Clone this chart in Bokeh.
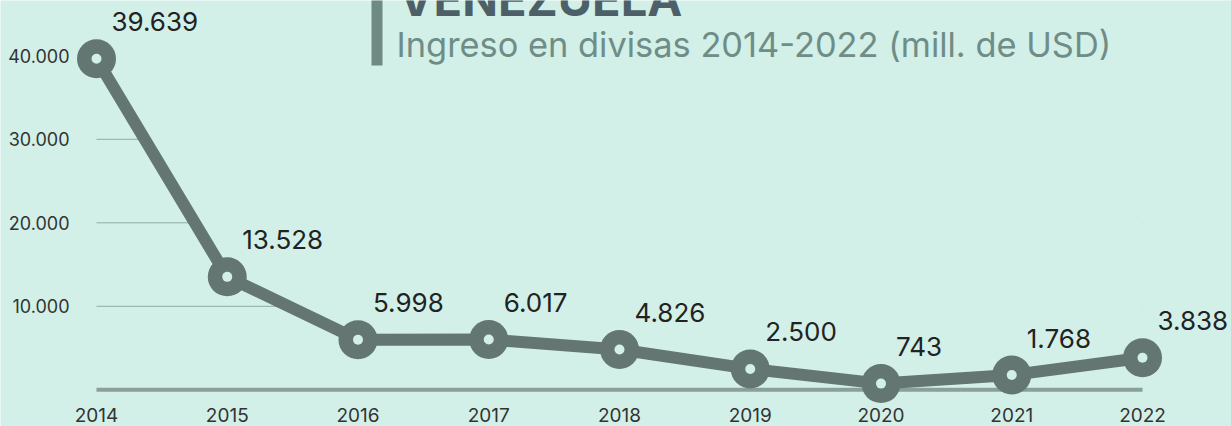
from bokeh.plotting import figure
from bokeh.models import Range1d
from bokeh.embed import file_html
from bokeh.resources import INLINE
from bokeh.core.properties import value

# ---- data ----
years = [2014, 2015, 2016, 2017, 2018, 2019, 2020, 2021, 2022]
income = [39639, 13528, 5998, 6017, 4826, 2500, 743, 1768, 3838]
value_labels = ["39.639", "13.528", "5.998", "6.017", "4.826", "2.500", "743", "1.768", "3.838"]
y_ticks = [10000, 20000, 30000, 40000]
y_tick_labels = ["10.000", "20.000", "30.000", "40.000"]
grid_values = [10000, 20000, 30000]
year_labels = [str(y) for y in years]
title = "VENEZUELA"
subtitle = "Ingreso en divisas 2014-2022 (mill. de USD)"

# ---- style ----
BG = "#d2f0e8"
LINE = "#637672"
GRID = "#93aaa5"
BASE = "#8a9e9a"
FONT = "Inter"

W, H = 1231, 426
X0_PX, DX_PX = 96.0, 130.75      # pixel of first year, pixels per year
Y0_PX, DY_PX = 389.3, 0.00835    # pixel (from top) of zero, pixels per unit
x_start = years[0] - X0_PX / DX_PX
x_end = x_start + W / DX_PX
y_end = Y0_PX / DY_PX
y_start = y_end - H / DY_PX


def px_x(px):
    return x_start + px / DX_PX


def px_y(py):
    return y_end - py / DY_PX


p = figure(width=W, height=H, x_range=Range1d(x_start, x_end), y_range=Range1d(y_start, y_end),
           x_axis_type=None, y_axis_type=None, toolbar_location=None, output_backend="svg",
           min_border=0, background_fill_color=BG, border_fill_color=BG, outline_line_color=None)

# grid lines (visible only below the series line)
p.segment(x0=[years[0]] * len(grid_values), x1=[years[-1]] * len(grid_values),
          y0=grid_values, y1=grid_values, line_color=GRID, line_width=1)
p.varea(x=years, y1=income, y2=[max(y_ticks)] * len(years), fill_color=BG)
# baseline
p.segment(x0=[years[0]], x1=[years[-1]], y0=[0], y1=[0], line_color=BASE, line_width=4)

# series
p.line(years, income, line_color=LINE, line_width=12)
p.scatter(years, income, size=39, fill_color=LINE, line_color=None)
p.scatter(years, income, size=10, fill_color=BG, line_color=None)

# value labels
p.text(x=years, y=income, text=value_labels, x_offset=15, y_offset=-37,
       text_font=value(FONT), text_font_size="26px", text_color="#222222",
       text_align="left", text_baseline="middle")

# y tick labels
p.text(x=[years[0]] * len(y_ticks), y=y_ticks, text=y_tick_labels, x_offset=-27, y_offset=0,
       text_font=value(FONT), text_font_size="18px", text_color="#333333",
       text_align="right", text_baseline="middle")

# x tick labels
p.text(x=years, y=[0] * len(years), text=year_labels, y_offset=25,
       text_font=value(FONT), text_font_size="19px", text_color="#333333",
       text_align="center", text_baseline="middle")

# title block
p.quad(left=[px_x(371)], right=[px_x(382)], top=[px_y(-10)], bottom=[px_y(65)],
       fill_color="#6e8a82", line_color=None)
p.text(x=[px_x(398)], y=[px_y(-2.5)], text=[title], text_font=value(FONT), text_font_size="47px",
       text_font_style="bold", text_color="#4d6068", text_align="left", text_baseline="middle")
p.text(x=[px_x(396)], y=[px_y(43.5)], text=[subtitle], text_font=value(FONT), text_font_size="34.4px",
       text_color="#6f8d86", text_align="left", text_baseline="middle")

open("out.html", "w").write(file_html(p, INLINE))
